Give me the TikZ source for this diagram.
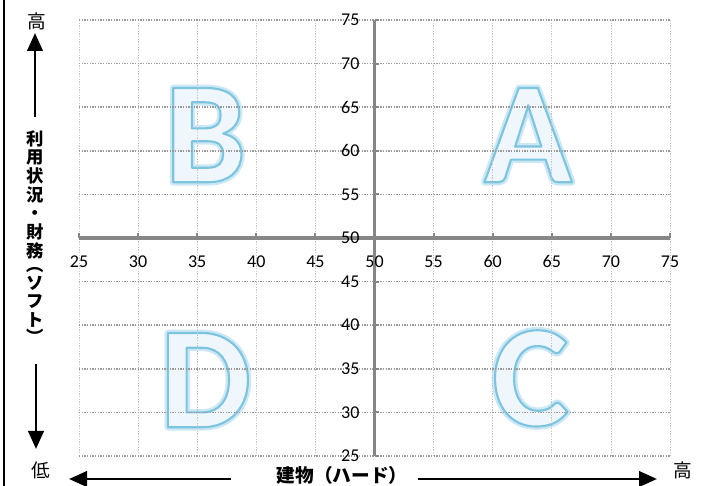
\documentclass[tikz,border=0pt]{standalone}
\usepackage{fontspec}
\setmainfont{Carlito}
\newfontfamily\jpfont{Noto Sans CJK JP}
\usetikzlibrary{arrows.meta}

\definecolor{axisgray}{HTML}{868686}
\definecolor{hgridgray}{HTML}{999999}
\definecolor{vgridgray}{HTML}{C4C4C4}

% outlined glyphs through the driver: width, stroke rgb, fill rgb, text
\newcommand{\outlinetext}[4]{\special{pdf:literal direct q #1 w 1 j #2 RG #3 rg 2 Tr}#4\special{pdf:literal direct 0 Tr Q}}
\newcommand{\glowletter}[1]{\outlinetext{5}{0.80 0.91 0.96}{0.80 0.91 0.96}{#1}}
\newcommand{\lineletter}[1]{\outlinetext{1.6}{0.49 0.77 0.88}{0.94 0.97 0.99}{#1}}

\begin{document}
\begin{tikzpicture}[x=0.75pt, y=0.75pt,
    hgrid/.style={hgridgray, line width=1.1pt, dash pattern=on 1.1pt off 0.9pt},
    vgrid/.style={vgridgray, line width=0.6pt, dash pattern=on 1pt off 1pt},
    axisline/.style={axisgray, line width=2.3pt},
    axistick/.style={axisgray, line width=1.6pt},
    numlabel/.style={font=\fontsize{13.5}{14}\selectfont, inner sep=0pt},
    bigletter/.style={font=\fontsize{109}{109}\selectfont\bfseries, inner sep=0pt},
    jplabel/.style={font=\jpfont\fontsize{14}{15}\selectfont, inner sep=0pt},
    bigarrow/.style={black, line width=2.2pt, -{Triangle[length=13.5pt, width=11.5pt]}}
]
\useasboundingbox (0,0) rectangle (704,486);

% left frame line
\coordinate (frametop) at (4,486);
\coordinate (framebot) at (4,0);
\draw[black, line width=1.5pt] (frametop) -- (framebot);

\begin{scope}[shift={(-216.5,-188)}, xscale=11.82, yscale=8.72]
  % letters
  \node (Bglow) [bigletter] at (35.7,61.8) {\glowletter{B}};
  \node (B) [bigletter] at (35.7,61.8) {\lineletter{B}};
  \node (Aglow) [bigletter] at (63.0,61.8) {\glowletter{A}};
  \node (A) [bigletter] at (63.0,61.8) {\lineletter{A}};
  \node (Dglow) [bigletter] at (35.7,33.7) {\glowletter{D}};
  \node (D) [bigletter] at (35.7,33.7) {\lineletter{D}};
  \node (Cglow) [bigletter] at (63.2,33.9) {\glowletter{C}};
  \node (C) [bigletter] at (63.2,33.9) {\lineletter{C}};

  % grid
  \foreach \v in {25,30,...,75}
    \draw[vgrid] (\v,25) -- (\v,75);
  \foreach \w in {25,30,35,40,45,55,60,65,70,75}
    \draw[hgrid] (25,\w) -- (75,\w);

  % axes
  \draw[axisline] (25,50) -- (75,50);
  \draw[axisline] (50,25) -- (50,75);
  \foreach \v in {25,30,...,75}
    \draw[axistick] (\v,50) -- (\v,50.55);
  \foreach \w in {25,30,...,75}
    \draw[axistick] (50,\w) -- (50.4,\w);

  % tick labels
  \foreach \v in {25,30,...,75}
    \node (xl\v) [numlabel] at (\v,47.25) {\v};
  \foreach \w in {25,30,...,75}
    \node (yl\w) [numlabel, anchor=east] at (48.75,\w) {\w};
\end{scope}

% vertical axis caption
\node (hightop) [jplabel] at (37,465) {高};
\node (lowbot) [jplabel] at (41,16) {低};
\node (softlabel) [jplabel, font=\jpfont\bfseries\fontsize{13}{14}\selectfont,
    align=center] at (35,249)
  {利\\用\\状\\況\\・\\財\\務\\[-3pt]︵\\[-1pt]ソ\\フ\\ト\\[-1pt]︶};
\coordinate (uptail) at (35,369);
\coordinate (uphead) at (35,453);
\coordinate (downtail) at (36,122);
\coordinate (downhead) at (36,37);
\draw[bigarrow] (uptail) -- (uphead);
\draw[bigarrow] (downtail) -- (downhead);

% horizontal axis caption
\node (hardlabel) [jplabel, font=\jpfont\bfseries\fontsize{14}{15}\selectfont]
  at (342,11) {建物（ハード）};
\node (highright) [jplabel] at (683,16) {高};
\coordinate (lefttail) at (231,7);
\coordinate (lefthead) at (69,7);
\coordinate (righttail) at (418,7);
\coordinate (righthead) at (657,7);
\draw[bigarrow] (lefttail) -- (lefthead);
\draw[bigarrow] (righttail) -- (righthead);

\end{tikzpicture}
\end{document}
